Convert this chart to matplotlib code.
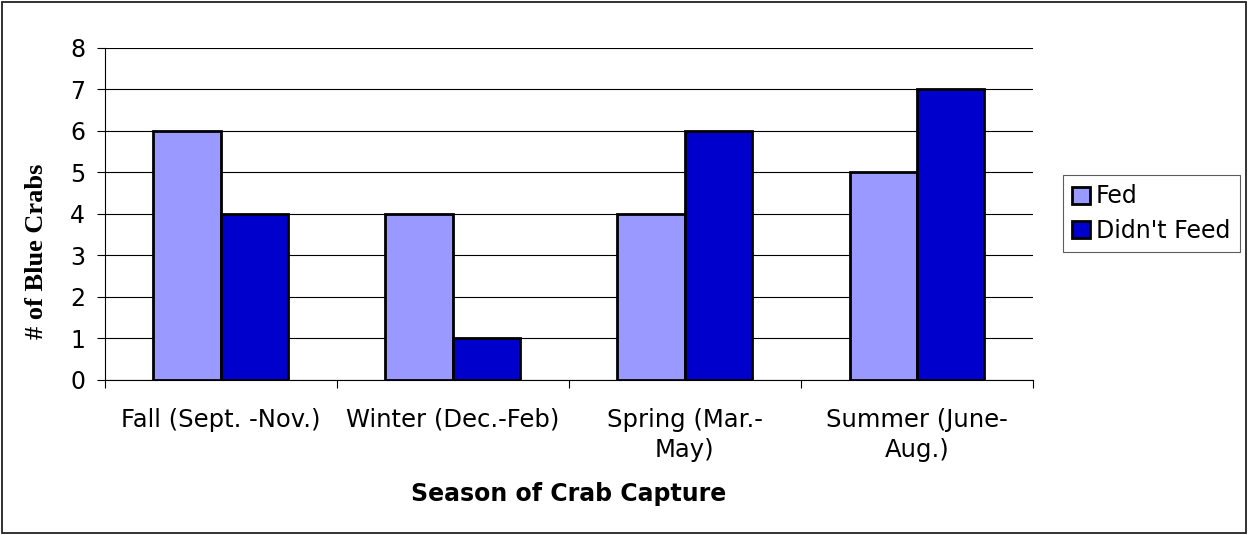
import numpy as np
import matplotlib.pyplot as plt
from matplotlib.patches import Rectangle

seasons = ["Fall (Sept. -Nov.)", "Winter (Dec.-Feb)", "Spring (Mar.-\nMay)", "Summer (June-\nAug.)"]
fed = [6, 4, 4, 5]
didnt_feed = [4, 1, 6, 7]

fig = plt.figure(figsize=(12.49, 5.35), dpi=100)
fig.patches.append(Rectangle((0.0016, 0.003), 0.9962, 0.994, transform=fig.transFigure,
                             fill=False, edgecolor="#222222", linewidth=1.3))
ax = fig.add_axes([0.0837, 0.290, 0.7433, 0.621])

x = np.arange(len(seasons))
w = 0.29
ax.bar(x - w / 2, fed, w, color="#9999FF", edgecolor="black", linewidth=2, label="Fed", zorder=3)
ax.bar(x + w / 2, didnt_feed, w, color="#0000CC", edgecolor="black", linewidth=2, label="Didn't Feed", zorder=3)

ax.set_xlim(-0.5, 3.5)
ax.set_ylim(0, 8)
ax.set_yticks(range(9))
ax.yaxis.grid(True, color="black", linewidth=0.8, zorder=0)
ax.set_xticks(np.arange(-0.5, 4, 1))
ax.set_xticklabels([])
ax.set_xticks(x, minor=True)
ax.set_xticklabels(seasons, minor=True, fontsize=17.5, family="DejaVu Sans", linespacing=1.35)
ax.tick_params(axis="x", which="minor", length=0, pad=20)
ax.tick_params(axis="x", which="major", length=6, width=0.8, direction="out")
ax.tick_params(axis="y", length=6, width=0.8, labelsize=17, pad=8)
for lbl in ax.get_yticklabels():
    lbl.set_family("DejaVu Sans")

for s in ["top", "right"]:
    ax.spines[s].set_visible(False)
ax.spines["left"].set_linewidth(0.8)
ax.spines["bottom"].set_linewidth(0.8)

ax.set_xlabel("Season of Crab Capture", fontsize=17, fontweight="bold", family="DejaVu Sans", labelpad=14)
ax.set_ylabel("# of Blue Crabs", fontsize=19, fontweight="bold", family="Liberation Serif")
ax.yaxis.set_label_coords(-0.061, 0.387)

leg = ax.legend(loc="center left", bbox_to_anchor=(1.032, 0.5), frameon=True,
                fancybox=False, edgecolor="#333333", handlelength=0.75, handleheight=0.75,
                handletextpad=0.25, borderpad=0.4, labelspacing=0.45, borderaxespad=0,
                prop={"family": "DejaVu Sans", "size": 17})
leg.get_frame().set_linewidth(0.8)
for p in leg.get_patches():
    p.set_linewidth(2)

fig.savefig("out.png", dpi=100)
